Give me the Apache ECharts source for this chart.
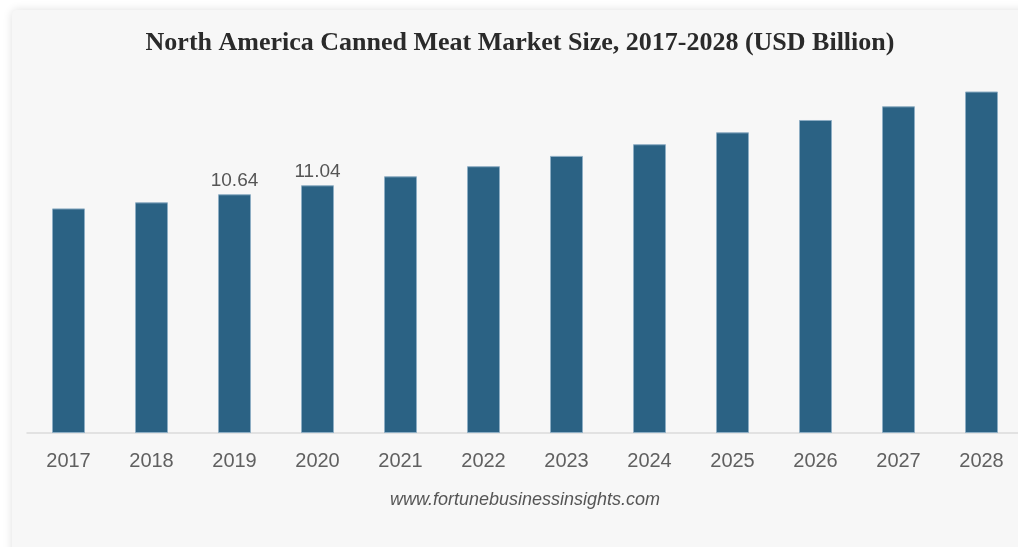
<!DOCTYPE html>
<html>
<head>
<meta charset="utf-8">
<title>North America Canned Meat Market Size</title>
<script src="https://cdn.jsdelivr.net/npm/echarts@6/dist/echarts.min.js"></script>
<style>
  html, body { margin: 0; padding: 0; background: #ffffff; overflow: hidden; }
  .card {
    position: absolute; left: 12px; top: 10px; width: 1040px; height: 560px;
    background: #f7f7f7; border-radius: 5px;
    box-shadow: 0 0 10px rgba(0,0,0,0.13);
  }
  /* 画布比窗口宽一点，让最后一根柱子可以贴近右边缘 */
  #chart { position: absolute; left: 0; top: 0; width: 1040px; height: 547px; }
</style>
</head>
<body>
<div class="card"></div>
<div id="chart"></div>
<script>
  // 年份和数值（USD Billion）
  const years = ['2017', '2018', '2019', '2020', '2021', '2022', '2023', '2024', '2025', '2026', '2027', '2028'];
  const marketSize = [10.01, 10.28, 10.64, 11.04, 11.44, 11.89, 12.35, 12.87, 13.40, 13.95, 14.56, 15.22];
  // 只有这两年显示数值标签
  const labeledYears = ['2019', '2020'];

  const chart = echarts.init(document.getElementById('chart'));

  const option = {
    backgroundColor: 'transparent',
    animation: false,
    title: {
      text: 'North America Canned Meat Market Size, 2017-2028 (USD Billion)',
      left: 515,
      textAlign: 'center',
      top: 25,
      textStyle: {
        fontFamily: '"Liberation Serif", "Times New Roman", serif',
        fontWeight: 'bold',
        fontSize: 26,
        color: '#2a2a2a'
      }
    },
    graphic: [{
      type: 'text',
      x: 525,
      y: 500,
      style: {
        text: 'www.fortunebusinessinsights.com',
        align: 'center',
        verticalAlign: 'middle',
        fontFamily: '"Liberation Sans", Arial, sans-serif',
        fontStyle: 'italic',
        fontSize: 18,
        fill: '#555555'
      }
    }],
    grid: {
      left: 27,
      top: 74,
      width: 996,
      height: 359
    },
    xAxis: {
      type: 'category',
      data: years,
      axisLine: { lineStyle: { color: '#dcdcdc', width: 1.5 } },
      axisTick: { show: false },
      axisLabel: {
        margin: 18,
        fontFamily: '"Liberation Sans", Arial, sans-serif',
        fontSize: 20,
        color: '#606060'
      }
    },
    yAxis: {
      type: 'value',
      min: 0,
      max: 16,
      show: false,
      splitLine: { show: false }
    },
    series: [{
      type: 'bar',
      barWidth: 33,
      data: marketSize.map((v, i) => ({
        value: v,
        label: { show: labeledYears.includes(years[i]) }
      })),
      itemStyle: {
        color: '#2b6284',
        borderColor: '#8eaec4',
        borderWidth: 1
      },
      label: {
        position: 'top',
        distance: 4,
        fontFamily: '"Liberation Sans", Arial, sans-serif',
        fontSize: 19,
        color: '#555555'
      }
    }]
  };

  chart.setOption(option);
</script>
</body>
</html>
